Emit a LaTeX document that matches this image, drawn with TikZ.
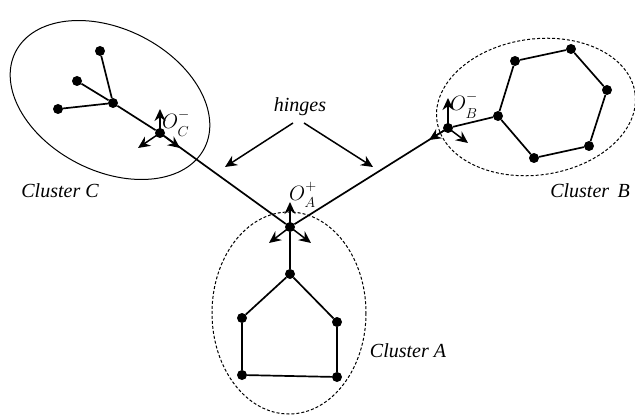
\documentclass[tikz,border=0pt]{standalone}
\usepackage{fontspec}
\setmainfont{Liberation Serif}
\usetikzlibrary{arrows.meta}
\newcommand{\hingelabel}[2]{$O^{\raisebox{2.5pt}{$\scriptstyle #1$}}_{\lower 2.5pt\hbox{$\scriptstyle #2$}}$}
\begin{document}
\begin{tikzpicture}[x=1pt,y=-1pt,
  dot/.style={circle,fill=black,inner sep=0pt,minimum size=10pt},
  edge/.style={line width=1.7pt},
  hingearrow/.style={line width=1.5pt,-{Stealth[length=12pt,width=11pt]}},
  lbl/.style={font=\fontsize{20}{22}\selectfont\itshape, anchor=base, inner sep=0pt},
  olbl/.style={font=\fontsize{22}{24}\selectfont, inner sep=0pt},
  clus/.style={line width=1pt},
  clusd/.style={line width=1pt, densely dashed}]
\useasboundingbox (0,0) rectangle (635,417);
% ellipses
\draw[clus] (110,100) ellipse[x radius=106, y radius=71, rotate=-27];
\draw[clusd] (289,313) ellipse[x radius=77, y radius=101];
\draw[clusd] (536,107) ellipse[x radius=100, y radius=68, rotate=8];
% cluster C
\node[dot] (c0) at (113,103) {};
\node[dot] (c1) at (100,51) {};
\node[dot] (c2) at (77,81) {};
\node[dot] (c3) at (58,109) {};
\node[dot] (oc) at (160,133) {};
% cluster A
\node[dot] (oa) at (290,227) {};
\node[dot] (a0) at (290,274) {};
\node[dot] (a1) at (242,318) {};
\node[dot] (a2) at (337,322) {};
\node[dot] (a3) at (242,375) {};
\node[dot] (a4) at (337,377) {};
% cluster B
\node[dot] (ob) at (448,128) {};
\node[dot] (b0) at (498,116) {};
\node[dot] (b1) at (515,61) {};
\node[dot] (b2) at (571,49) {};
\node[dot] (b3) at (607,90) {};
\node[dot] (b4) at (589,146) {};
\node[dot] (b5) at (534,158) {};
% edges
\draw[edge] (c1) -- (c0); \draw[edge] (c2) -- (c0); \draw[edge] (c3) -- (c0);
\draw[edge] (c0) -- (oc); \draw[edge] (oc) -- (oa); \draw[edge] (oa) -- (ob);
\draw[edge] (oa) -- (a0); \draw[edge] (a0) -- (a1); \draw[edge] (a0) -- (a2);
\draw[edge] (a1) -- (a3); \draw[edge] (a2) -- (a4); \draw[edge] (a3) -- (a4);
\draw[edge] (ob) -- (b0); \draw[edge] (b0) -- (b1); \draw[edge] (b1) -- (b2);
\draw[edge] (b2) -- (b3); \draw[edge] (b3) -- (b4); \draw[edge] (b4) -- (b5);
\draw[edge] (b5) -- (b0);
% hinge frames
\coordinate (ocu) at (160,109); \coordinate (ocl) at (138,148); \coordinate (ocr) at (180,148);
\coordinate (oau) at (290,202); \coordinate (oal) at (269,243); \coordinate (oar) at (311,243);
\coordinate (obu) at (448,98); \coordinate (obl) at (429,140); \coordinate (obr) at (468,143);
\draw[hingearrow] (oc.center) -- (ocu); \draw[hingearrow] (oc.center) -- (ocl); \draw[hingearrow] (oc.center) -- (ocr);
\draw[hingearrow] (oa.center) -- (oau); \draw[hingearrow] (oa.center) -- (oal); \draw[hingearrow] (oa.center) -- (oar);
\draw[hingearrow] (ob.center) -- (obu); \draw[hingearrow] (ob.center) -- (obl); \draw[hingearrow] (ob.center) -- (obr);
% O labels
\node[olbl] (tc) at (176,123) {\hingelabel{-}{C}};
\node[olbl] (ta) at (303,195) {\hingelabel{+}{A}};
\node[olbl] (tb) at (464,105) {\hingelabel{-}{B}};
% hinges
\node[lbl] (h) at (300,112) {hinges};
\coordinate (hl) at (225,167); \coordinate (hr) at (373,167);
\coordinate (hls) at (293,123); \coordinate (hrs) at (304,123);
\draw[hingearrow] (hls) -- (hl); \draw[hingearrow] (hrs) -- (hr);
% cluster labels
\node[lbl] (lc) at (60,198) {Cluster C};
\node[lbl] (la) at (408,357) {Cluster A};
\node[lbl] (lb) at (590,197) {Cluster\, B};
\end{tikzpicture}
\end{document}
